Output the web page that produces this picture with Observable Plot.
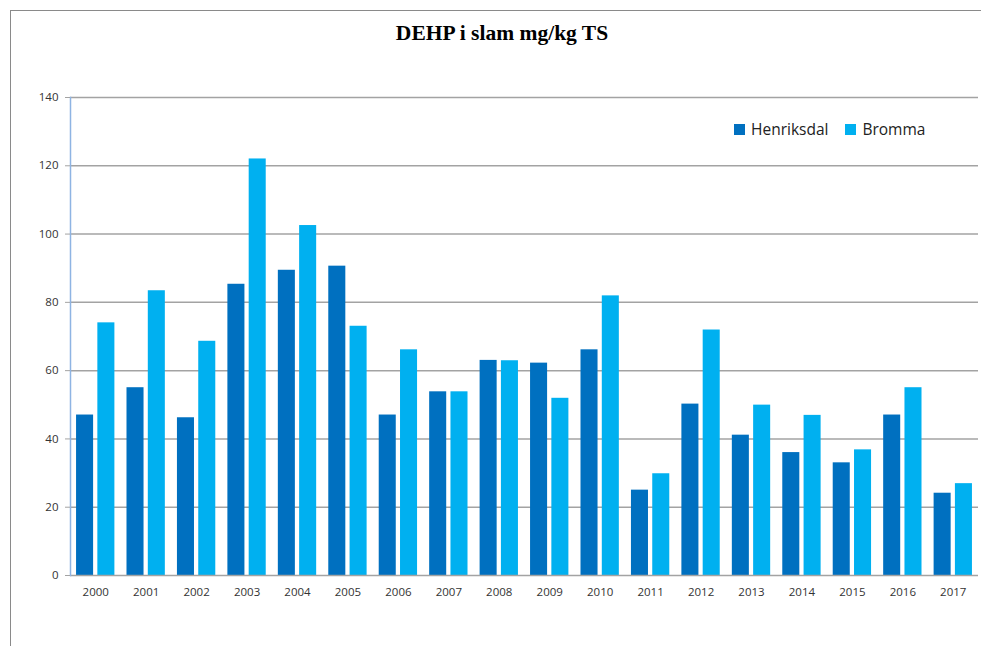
<!DOCTYPE html>
<html>
<head>
<meta charset="utf-8">
<script src="https://cdn.jsdelivr.net/npm/d3@7"></script>
<script src="https://cdn.jsdelivr.net/npm/@observablehq/plot@0.6"></script>
<style>
  body { margin: 0; background: #fff; }
  #wrap { position: relative; width: 981px; height: 646px; overflow: hidden; }
  #frame { position: absolute; left: 10px; top: 10px; right: 0; bottom: 0;
           border-left: 1.5px solid #8a8a8a; border-top: 1.5px solid #8a8a8a; }
  #title { position: absolute; top: 21px; left: 0; width: 958px; padding-left: 23px; text-align: center;
           font: bold 21.5px "Liberation Serif", "DejaVu Serif", serif; color: #000; }
  #chart { position: absolute; left: 0; top: 0; }
  #legend { position: absolute; left: 734px; top: 118px; font: 15.5px "Open Sans", sans-serif; color: #222;
            display: flex; align-items: center; }
  .item { display: flex; align-items: center; margin-right: 17px; }
  .sw { width: 11px; height: 11px; margin-right: 6px; }
</style>
</head>
<body>
<div id="wrap">
  <div id="frame"></div>
  <div id="chart"></div>
  <div id="title">DEHP i slam mg/kg TS</div>
  <div id="legend"></div>
</div>
<script>
const years = ["2000","2001","2002","2003","2004","2005","2006","2007","2008","2009","2010","2011","2012","2013","2014","2015","2016","2017"];
const series = ["Henriksdal", "Bromma"];
const colors = ["#0070C0", "#00B0F0"];
const henriksdal = [47, 55, 46.2, 85.3, 89.4, 90.6, 47, 53.8, 63, 62.2, 66.1, 25, 50.2, 41.1, 36, 33, 47, 24.1];
const bromma = [74, 83.4, 68.6, 122, 102.5, 73, 66.1, 53.8, 62.9, 51.9, 81.9, 29.8, 71.9, 49.9, 46.9, 36.8, 55, 26.9];
const yTicks = [0, 20, 40, 60, 80, 100, 120, 140];

const W = 981, H = 646, mL = 70, mR = 3, mT = 97, mB = 71;
const padInner = 0.24, padOuter = 0.12, barGap = 0.2;

// band geometry (derived from the x band scale settings)
const step = (W - mL - mR) / (years.length - padInner + 2 * padOuter);
const bandwidth = step * (1 - padInner);
const barStep = bandwidth / (2 - barGap);   // offset from one series' bar to the next
const inset = barStep;                      // each bar keeps bandwidth - barStep

const dataH = years.map((y, i) => ({year: y, series: series[0], value: henriksdal[i]}));
const dataB = years.map((y, i) => ({year: y, series: series[1], value: bromma[i]}));

const chart = Plot.plot({
  width: W,
  height: H,
  marginTop: mT,
  marginBottom: mB,
  marginLeft: mL,
  marginRight: mR,
  style: {fontFamily: "Open Sans, sans-serif", fontSize: "11.5px", color: "#333", background: "transparent"},
  x: {domain: years, paddingInner: padInner, paddingOuter: padOuter, round: false, label: null, axis: null},
  y: {domain: [0, 140], axis: null},
  color: {domain: series, range: colors},
  marks: [
    Plot.ruleY(yTicks.filter(d => d > 0), {stroke: "#a3a3a3", strokeWidth: 1.5}),
    Plot.barY(dataH, {x: "year", y: "value", fill: "series", insetRight: inset}),
    Plot.barY(dataB, {x: "year", y: "value", fill: "series", insetLeft: inset}),
    Plot.ruleY([0], {stroke: "#a3a3a3", strokeWidth: 1.5}),
    Plot.frame({anchor: "left", stroke: "#8eb4e3", strokeWidth: 1.5}),
    Plot.axisY(yTicks, {anchor: "left", tickSize: 5, tickPadding: 7, label: null, stroke: "#a3a3a3", fill: "#333", fontSize: 11.5}),
    Plot.axisX(years, {anchor: "bottom", tickSize: 0, tickPadding: 12, label: null, fill: "#333", fontSize: 11.5})
  ]
});
document.getElementById("chart").appendChild(chart);

const legend = document.getElementById("legend");
series.forEach((s, i) => {
  const item = document.createElement("div");
  item.className = "item";
  const sw = document.createElement("span");
  sw.className = "sw";
  sw.style.background = colors[i];
  const t = document.createElement("span");
  t.textContent = s;
  item.appendChild(sw);
  item.appendChild(t);
  legend.appendChild(item);
});
</script>
</body>
</html>
